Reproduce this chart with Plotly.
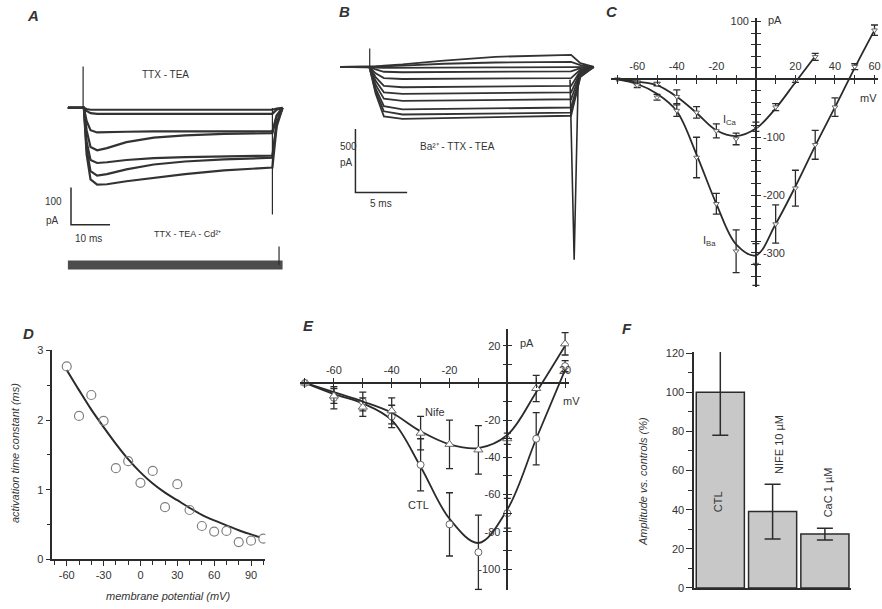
import plotly.graph_objects as go

W, H = 882, 609
FONT = "Liberation Sans, Arial, sans-serif"
INK = "#2b2b2b"

# ---------------- Panel A : TTX-TEA currents (ms, pA) ----------------
A_time = [0, 4.1, 4.8, 5.8, 7.5, 10, 15, 22, 30, 40, 52.4, 53.5, 55]
A_currents = [
    [0, 0, -3, -5, -5, -5, -5, -5, -5, -5, -5, -2, 0],
    [0, 0, -8, -14, -16, -16, -15, -15, -15, -16, -16, -5, 0],
    [0, 0, -35, -60, -66, -66, -64, -63, -63, -63, -63, -20, 0],
    [0, 0, -60, -105, -114, -108, -92, -80, -74, -70, -68, -22, 0],
    [0, 0, -90, -140, -148, -146, -140, -135, -132, -130, -128, -40, 0],
    [0, 0, -110, -170, -182, -178, -165, -152, -144, -138, -134, -42, 0],
    [0, 0, -125, -192, -206, -205, -197, -188, -178, -168, -160, -50, 0],
]
A_onset_t, A_onset_i = [3.9, 3.9], [0, 111]
A_tail_t, A_tail_i = [52.4, 52.4], [0, -286]
A_cd_t, A_cd_i = [0, 55], [-422, -422]
A_cd_art_t, A_cd_art_i = [54.1, 54.1], [-422, -372]
A_bar_t, A_bar_i = [0.8, 0.8, 10.8], [-214, -314, -314]

# ---------------- Panel B : Ba2+ currents (ms, pA) ----------------
B_time = [0, 2.8, 3.4, 4.2, 6, 10, 15, 22.3, 23.2, 24.5]
B_currents = [
    [0, 0, 5, 10, 20, 50, 80, 95, 30, 0],
    [0, 0, 3, 5, 10, 25, 35, 40, 15, 0],
    [0, 0, -5, -8, -8, -5, -3, -2, 0, 0],
    [0, 0, -20, -38, -42, -40, -38, -35, -10, 0],
    [0, 0, -50, -88, -95, -93, -90, -88, -20, 0],
    [0, 0, -80, -150, -160, -158, -155, -150, -30, 0],
    [0, 0, -110, -200, -212, -210, -205, -200, -40, 0],
    [0, 0, -140, -250, -268, -265, -260, -255, -50, 0],
    [0, 0, -170, -310, -335, -330, -325, -320, -60, 0],
    [0, 0, -190, -350, -375, -370, -365, -360, -70, 0],
    [0, 0, -210, -390, -410, -405, -395, -385, -80, 0],
]
B_onset_t, B_onset_i = [2.83, 2.83], [0, 145]
B_tail_t, B_tail_i = [22.2, 22.6, 23.0], [-100, -1520, -60]
B_bar_t, B_bar_i = [1.45, 1.45, 6.45], [-490, -990, -990]

# ---------------- Panel C : I-V curves (mV, pA) ----------------
C_ca_v = [-70, -60, -50, -40, -30, -20, -10, 0, 10, 20, 30]
C_ca_i = [0, -6, -8, -30, -57, -89, -103, -82, -48, -2, 39]
C_ca_err = [0, 3, 3, 12, 10, 12, 10, 8, 6, 3, 6]
C_ca_fit = [0, -4, -10, -30, -58, -88, -98, -85, -50, -5, 40]
C_ba_v = [-70, -60, -50, -40, -30, -20, -10, 0, 10, 20, 30, 40, 50, 60]
C_ba_i = [0, -10, -31, -54, -135, -215, -297, -320, -250, -188, -113, -48, 22, 85]
C_ba_err = [0, 4, 5, 10, 35, 18, 37, 36, 33, 31, 25, 16, 5, 9]
C_ba_fit = [0, -8, -25, -55, -130, -215, -285, -304, -250, -185, -115, -48, 20, 85]

# ---------------- Panel D : activation time constant ----------------
D_v = [-60, -50, -40, -30, -20, -10, 0, 10, 20, 30, 40, 50, 60, 70, 80, 90, 100]
D_tau = [2.77, 2.06, 2.36, 1.99, 1.31, 1.41, 1.10, 1.27, 0.75, 1.08, 0.71, 0.48,
         0.40, 0.41, 0.25, 0.27, 0.30]
D_fit_v = [-60, -50, -40, -30, -20, -10, 0, 10, 20, 30, 40, 50, 60, 70, 80, 90, 97]
D_fit_tau = [2.72, 2.43, 2.15, 1.90, 1.66, 1.44, 1.25, 1.09, 0.96, 0.85, 0.74, 0.64,
             0.56, 0.49, 0.42, 0.36, 0.32]

# ---------------- Panel E : CTL vs Nifedipine I-V ----------------
E_v = [-70, -60, -50, -40, -30, -20, -10, 0, 10, 20]
E_ctl = [0, -8, -10, -18, -44, -76, -91, -70, -30, 9]
E_ctl_err = [0, 6, 5, 6, 14, 17, 20, 8, 14, 3]
E_ctl_fit = [0, -6, -11, -20, -45, -73, -86, -68, -30, 7]
E_nife = [0, -7, -13, -15, -27, -33, -36, -30, -3, 21]
E_nife_err = [0, 4, 5, 7, 9, 13, 13, 3, 7, 6]
E_nife_fit = [0, -5, -10, -16, -26, -33, -35, -28, -5, 20]

# ---------------- Panel F : amplitude bars ----------------
F_cats = ["CTL", "NIFE 10 µM", "CaC 1 µM"]
F_vals = [100, 39, 27.5]
F_err = [22, 14, 3]


def fx(px):
    # horizontal placement helper (pixel column of the picture -> paper fraction)
    return (px / 0.9965) / W


def fy(py):
    # vertical placement helper (pixel row of the picture -> paper fraction)
    return 1 - ((py - 7.8) / 0.974) / H


fig = go.Figure()


def line(x, y, xa, ya, width=1.3, color=INK, opacity=1.0):
    fig.add_trace(go.Scatter(x=x, y=y, mode="lines", line=dict(color=color, width=width),
                             opacity=opacity, xaxis=xa, yaxis=ya, showlegend=False,
                             hoverinfo="skip"))


# A traces
for cur in A_currents:
    line(A_time, cur, "x", "y", 2.2, "#333")
line(A_onset_t, A_onset_i, "x", "y", 1.2)
line(A_tail_t, A_tail_i, "x", "y", 1.2)
line(A_cd_t, A_cd_i, "x", "y", 9, "#3a3a3a", 0.9)
line(A_cd_art_t, A_cd_art_i, "x", "y", 1.2)
line(A_bar_t, A_bar_i, "x", "y", 1.5)

# B traces
for cur in B_currents:
    line(B_time, cur, "x2", "y2", 1.8, "#333")
line(B_onset_t, B_onset_i, "x2", "y2", 1.2)
line(B_tail_t, B_tail_i, "x2", "y2", 1.6)
line(B_bar_t, B_bar_i, "x2", "y2", 1.5)

err_kw = dict(type="data", color=INK, thickness=1.3, width=3.5)


def iv(xv, yv, err, fit, symbol, xa, ya, size=6):
    fig.add_trace(go.Scatter(x=xv, y=fit, mode="lines",
                             line=dict(color=INK, width=1.8, shape="spline", smoothing=1.0),
                             xaxis=xa, yaxis=ya, showlegend=False))
    fig.add_trace(go.Scatter(x=xv, y=yv, mode="markers",
                             marker=dict(symbol=symbol, size=size, color="white",
                                         line=dict(color="#666", width=1)),
                             error_y=dict(array=err, **err_kw),
                             xaxis=xa, yaxis=ya, showlegend=False))


iv(C_ca_v, C_ca_i, C_ca_err, C_ca_fit, "triangle-down", "x3", "y3", 5)
iv(C_ba_v, C_ba_i, C_ba_err, C_ba_fit, "triangle-down", "x3", "y3", 5)
fig.add_trace(go.Scatter(x=[0], y=[0], mode="markers", marker=dict(opacity=0),
                         xaxis="x4", yaxis="y4", showlegend=False, hoverinfo="skip"))

# D
fig.add_trace(go.Scatter(x=D_fit_v, y=D_fit_tau, mode="lines",
                         line=dict(color=INK, width=2, shape="spline", smoothing=1.0),
                         xaxis="x5", yaxis="y5", showlegend=False))
fig.add_trace(go.Scatter(x=D_v, y=D_tau, mode="markers",
                         marker=dict(symbol="circle-open", size=9, color="#808080",
                                     line=dict(width=1.2)),
                         xaxis="x5", yaxis="y5", showlegend=False))

# E
iv(E_v, E_ctl, E_ctl_err, E_ctl_fit, "circle", "x6", "y6", 7)
iv(E_v, E_nife, E_nife_err, E_nife_fit, "triangle-up", "x6", "y6", 8)
fig.add_trace(go.Scatter(x=[0], y=[0], mode="markers", marker=dict(opacity=0),
                         xaxis="x7", yaxis="y7", showlegend=False, hoverinfo="skip"))

# F
fig.add_trace(go.Bar(x=F_cats, y=F_vals,
                     marker=dict(color="#c8c8c8", line=dict(color=INK, width=1.5)),
                     error_y=dict(type="data", array=F_err, color=INK, thickness=1.5, width=8),
                     xaxis="x8", yaxis="y8", showlegend=False))

tickfont = dict(family=FONT, size=11, color="#333")
hidden = dict(visible=False)


def labels(vals, show):
    return [str(v) if v in show else " " for v in vals]


C_xt = list(range(-70, 61, 10))
C_yt = list(range(-340, 101, 20))
E_xt = list(range(-70, 21, 10))
E_yt = list(range(-100, 21, 10))

axis_common = dict(showline=True, linecolor=INK, linewidth=1.5, tickcolor=INK,
                   tickwidth=1.3, showgrid=False, zeroline=False, tickfont=tickfont)

layout = dict(
    width=W, height=H, margin=dict(l=0, r=0, t=0, b=0),
    paper_bgcolor="white", plot_bgcolor="rgba(0,0,0,0)",
    font=dict(family=FONT, color="#333"),
    bargap=0.08,
    xaxis=dict(domain=[fx(60), fx(290)], range=[-2, 57], anchor="y", **hidden),
    yaxis=dict(domain=[fy(280), fy(55)], range=[-462, 146], anchor="x", **hidden),
    xaxis2=dict(domain=[fx(330), fx(600)], range=[-0.97, 25.17], anchor="y2", **hidden),
    yaxis2=dict(domain=[fy(280), fy(40)], range=[-1680, 225], anchor="x2", **hidden),
    xaxis3=dict(domain=[fx(610), fx(877)], range=[-73.4, 61.8], anchor="free",
                position=fy(80.7), side="top", ticks="outside", ticklen=4,
                tickmode="array", tickvals=C_xt,
                ticktext=labels(C_xt, {-60, -40, -20, 20, 40, 60}), **axis_common),
    yaxis3=dict(domain=[fy(287), fy(20)], range=[-358.8, 105.6], anchor="free",
                position=fx(755), side="right", ticks="outside", ticklen=4,
                tickmode="array", tickvals=C_yt,
                ticktext=labels(C_yt, {-100, -200, -300}), **axis_common),
    xaxis4=dict(overlaying="x3", range=[-73.4, 61.8], anchor="free", position=fy(80.7),
                side="bottom", ticks="outside", ticklen=4, tickmode="array",
                tickvals=C_xt, showticklabels=False, **axis_common),
    yaxis4=dict(overlaying="y3", range=[-358.8, 105.6], anchor="free", position=fx(755),
                side="left", ticks="outside", ticklen=4, tickmode="array",
                tickvals=C_yt, ticktext=labels(C_yt, {100}), **axis_common),
    xaxis5=dict(domain=[fx(52.3), fx(265)], range=[-71.7, 101.65], anchor="y5",
                ticks="outside", ticklen=5, tickmode="array",
                tickvals=[-60, -30, 0, 30, 60, 90], ticktext=["-60", "-30", "0", "30", "60", "90"],
                minor=dict(tickmode="linear", tick0=-60, dtick=10, ticks="outside",
                           ticklen=4, tickcolor=INK, tickwidth=1.3),
                **axis_common),
    yaxis5=dict(domain=[fy(557.7), fy(350)], range=[0, 3.0], anchor="x5",
                ticks="outside", ticklen=5, tickmode="linear", tick0=0, dtick=1,
                minor=dict(tickmode="linear", tick0=0, dtick=0.5, ticks="outside",
                           ticklen=4, tickcolor=INK, tickwidth=1.3),
                **axis_common),
    xaxis6=dict(domain=[fx(300), fx(568.3)], range=[-71.6, 21.35], anchor="free",
                position=fy(382.3), side="top", ticks="outside", ticklen=4,
                tickmode="array", tickvals=E_xt,
                ticktext=labels(E_xt, {-60, -40, -20, 20}), **axis_common),
    yaxis6=dict(domain=[fy(588.3), fy(328.3)], range=[-111.4, 29.2], anchor="free",
                position=fx(506.7), side="left", ticks="outside", ticklen=4,
                tickmode="array", tickvals=E_yt,
                ticktext=labels(E_yt, {20, -20, -40, -60, -80, -100}), **axis_common),
    xaxis7=dict(overlaying="x6", range=[-71.6, 21.35], anchor="free", position=fy(382.3),
                side="bottom", ticks="outside", ticklen=4, tickmode="array",
                tickvals=E_xt, showticklabels=False, **axis_common),
    yaxis7=dict(overlaying="y6", range=[-111.4, 29.2], anchor="free", position=fx(506.7),
                side="right", ticks="outside", ticklen=4, tickmode="array",
                tickvals=E_yt, showticklabels=False, **axis_common),
    xaxis8=dict(domain=[fx(693.3), fx(850)], range=[-0.5, 2.5], anchor="y8",
                showticklabels=False, ticks="", showline=True, linecolor=INK,
                linewidth=1.5, showgrid=False, zeroline=False),
    yaxis8=dict(domain=[fy(586), fy(351.7)], range=[0, 120.5], anchor="x8",
                ticks="outside", ticklen=6, tickmode="linear", tick0=0, dtick=20,
                minor=dict(tickmode="linear", tick0=0, dtick=10, ticks="outside",
                           ticklen=4, tickcolor=INK, tickwidth=1.3),
                **axis_common),
)

anns = []


def ann(text, px, py, size=10, angle=0, xanchor="center"):
    anns.append(dict(text=text, x=fx(px), y=fy(py), xref="paper", yref="paper",
                     showarrow=False, textangle=angle, xanchor=xanchor, yanchor="middle",
                     font=dict(family=FONT, size=size, color="#333")))


# panel letters
for letter, px, py in [("A", 33, 17), ("B", 344, 13), ("C", 611, 13),
                       ("D", 28, 333), ("E", 308, 325), ("F", 626, 328)]:
    ann(f"<b><i>{letter}</i></b>", px, py, size=15)

# A
ann("TTX - TEA", 165, 76, 10)
ann("100", 53, 202, 10)
ann("pA", 52, 221, 10)
ann("10 ms", 88, 239, 10)
ann("TTX - TEA - Cd²⁺", 187, 234, 9)
# B
ann("500", 348, 147, 10)
ann("pA", 346, 163, 10)
ann("5 ms", 381, 204, 10)
ann("Ba²⁺ - TTX - TEA", 457, 147, 10)
# C
ann("I<sub>Ca</sub>", 729, 121, 11)
ann("I<sub>Ba</sub>", 709, 241, 11)
ann("mV", 867, 99, 11)
ann("pA", 774, 22, 11)
# D
ann("<i>activation time constant (ms)</i>", 15, 452, 11, angle=-90)
ann("<i>membrane potential (mV)</i>", 168, 594, 11)
# E
ann("Nife", 434, 411, 11)
ann("CTL", 418, 504, 11)
ann("mV", 571, 400, 11)
ann("pA", 526, 343, 11)
# F
ann("<i>Amplitude vs. controls (%)</i>", 642, 480, 11, angle=-90)
ann("CTL", 717, 500, 11, angle=-90)
ann("NIFE 10 µM", 778, 443, 11, angle=-90)
ann("CaC 1 µM", 827, 491, 11, angle=-90)

layout["annotations"] = anns
fig.update_layout(**layout)

page_css = (
    "var s=document.createElement('style');"
    "s.textContent='html,body{margin:0;padding:0;overflow:hidden;}';"
    "document.head.appendChild(s);"
)
fig.write_html("out.html", config={"displayModeBar": False}, post_script=page_css)
